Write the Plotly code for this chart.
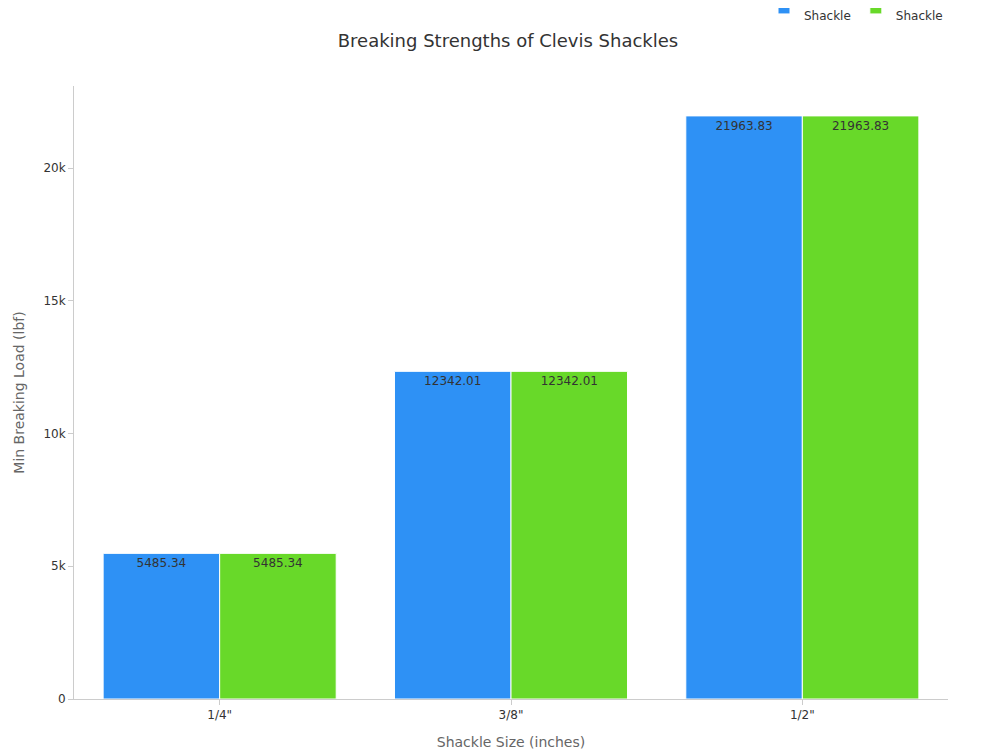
import plotly.graph_objects as go

sizes = ['1/4"', '3/8"', '1/2"']
anchor = [5485.34, 12342.01, 21963.83]
chain = [5485.34, 12342.01, 21963.83]

fig = go.Figure()
for name, vals, col in [("Anchor<br>Shackle", anchor, "#2e91f5"),
                        ("Chain<br>Shackle", chain, "#68d929")]:
    fig.add_trace(go.Bar(
        x=sizes, y=vals, name=name, marker=dict(color=col, line=dict(color="white", width=1)),
        text=[f"{v:.2f}" for v in vals], textposition="inside", insidetextanchor="end",
        textfont=dict(color="#333", size=12),
    ))

fig.update_layout(
    width=1000, height=750, barmode="group", bargap=0.2, bargroupgap=0,
    font=dict(family="DejaVu Sans", size=12, color="#333"),
    title=dict(text="Breaking Strengths of Clevis Shackles", x=0.5, y=0.957,
               xanchor="center", yanchor="middle", font=dict(size=18)),
    plot_bgcolor="white", paper_bgcolor="white",
    margin=dict(l=66, r=60, t=78, b=59, autoexpand=False),
    legend=dict(orientation="h", x=1.0, xanchor="right", y=1.09, yanchor="bottom",
                font=dict(size=12)),
    xaxis=dict(title=dict(text="Shackle Size (inches)", font=dict(color="#666", size=14)),
               showline=True, linecolor="#ccc", ticks="outside", tickcolor="#ccc"),
    yaxis=dict(title=dict(text="Min Breaking Load (lbf)", font=dict(color="#666", size=14)),
               range=[0, 23090], showgrid=False, showline=True, linecolor="#ccc",
               ticks="outside", tickcolor="#ccc", tickvals=[0, 5000, 10000, 15000, 20000],
               ticktext=["0", "5k", "10k", "15k", "20k"], zeroline=False),
)
fig.write_html("out.html")
